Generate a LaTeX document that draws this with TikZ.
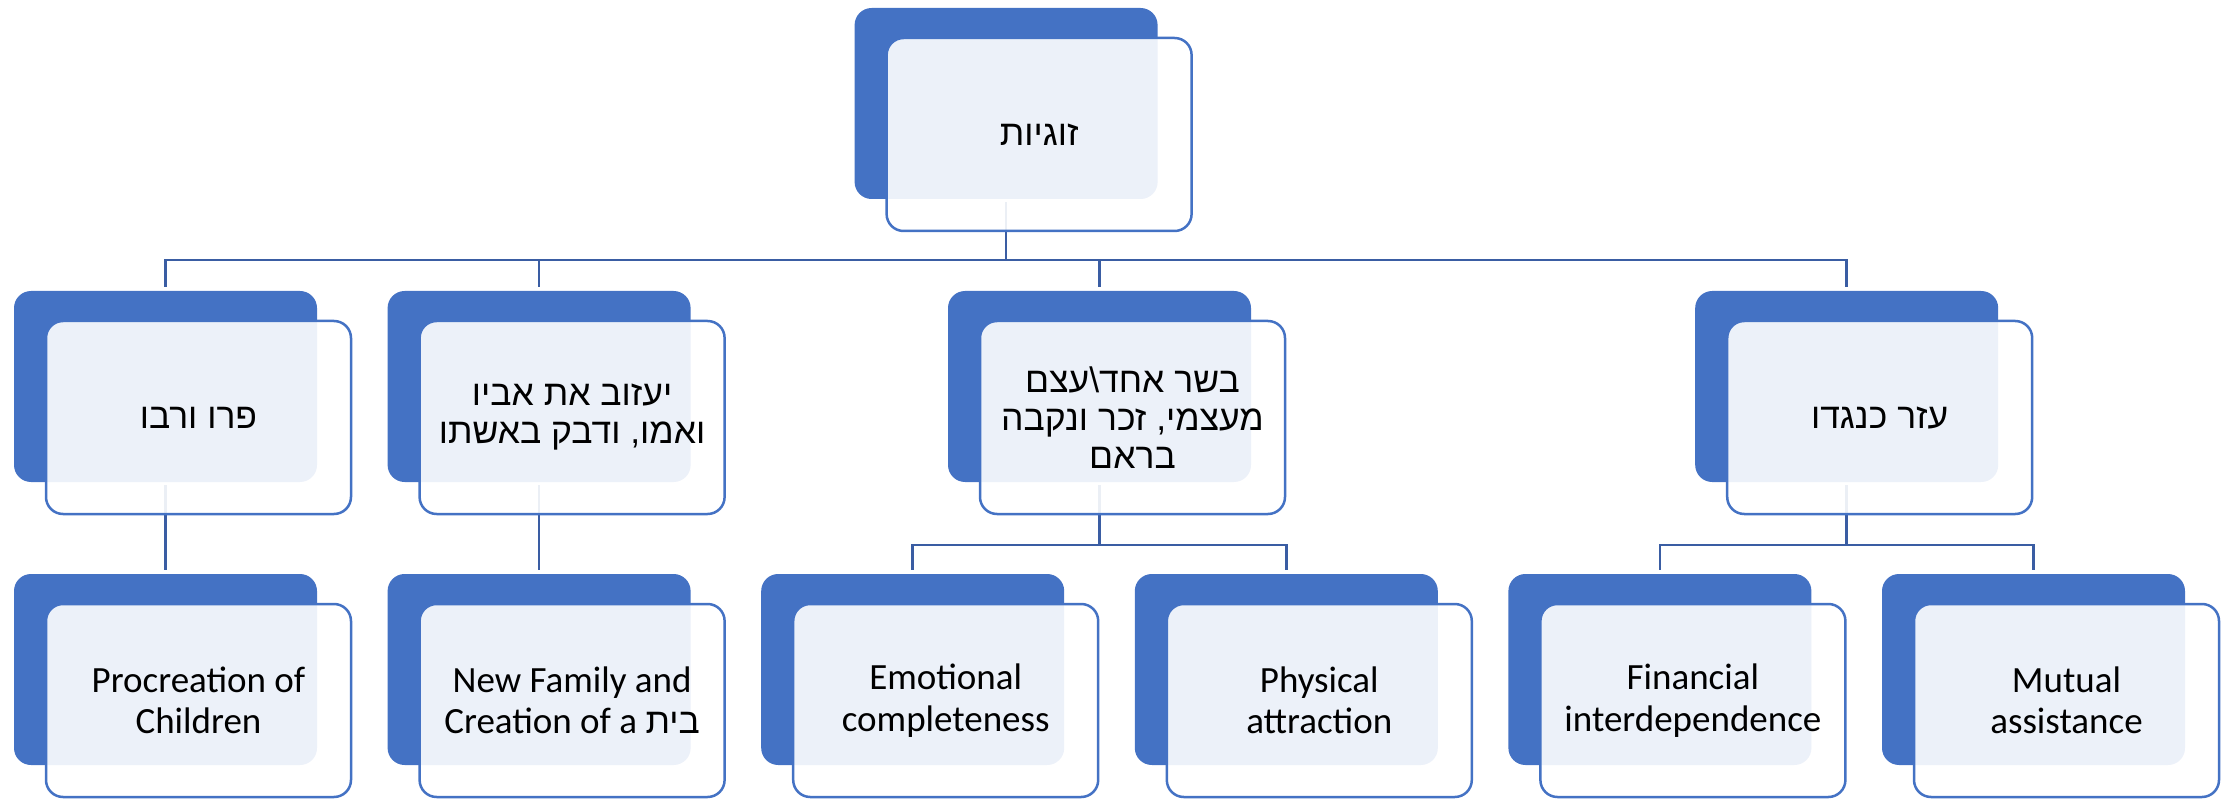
\documentclass[tikz,border=0pt]{standalone}
\usepackage{fontspec}
\setmainfont{Carlito}
\newfontfamily\heb[Script=Hebrew]{Liberation Sans}
\TeXXeTstate=1
\usetikzlibrary{calc}
\definecolor{accent}{HTML}{4472C4}
\definecolor{connc}{HTML}{3A5DA3}
\tikzset{
  bluebox/.style={fill=accent, draw=none, rounded corners=17pt, minimum width=303pt, minimum height=191pt, inner sep=0pt},
  whitebox/.style={fill=white, fill opacity=0.9, text opacity=1, draw=accent, draw opacity=1, line width=2.5pt, rounded corners=17pt, minimum width=305pt, minimum height=193pt, inner sep=0pt, align=center, text=black},
  entext/.style={font=\fontsize{37}{41.5}\selectfont},
  hetext/.style={font=\heb\fontsize{35.5}{38}\selectfont},
  conn/.style={draw=connc, line width=2.5pt}
}
\begin{document}
\begin{tikzpicture}[x=1pt,y=-1pt]
\useasboundingbox (0,0) rectangle (2236,799);
% back (blue) boxes
\node[bluebox] (b0) at (1006.1,103.5) {};
\node[bluebox] (b1) at (165.5,386.5) {};
\node[bluebox] (b2) at (539.1,386.5) {};
\node[bluebox] (b3) at (1099.5,386.5) {};
\node[bluebox] (b4) at (1846.7,386.5) {};
\node[bluebox] (c1) at (165.5,669.5) {};
\node[bluebox] (c2) at (539.1,669.5) {};
\node[bluebox] (c3) at (912.7,669.5) {};
\node[bluebox] (c4) at (1286.3,669.5) {};
\node[bluebox] (c5) at (1659.9,669.5) {};
\node[bluebox] (c6) at (2033.5,669.5) {};
% connectors
\coordinate (bus1) at (0,260);
\coordinate (bus2) at (0,545);
\draw[conn] ([yshift=-3pt]b0.south) -- (b0.south |- bus1);
\draw[conn] ([yshift=4pt]b1.north) -- (b1.north |- bus1) -- (b4.north |- bus1) -- ([yshift=4pt]b4.north);
\draw[conn] (b2.north |- bus1) -- ([yshift=4pt]b2.north);
\draw[conn] (b3.north |- bus1) -- ([yshift=4pt]b3.north);
\draw[conn] ([yshift=-3pt]b1.south) -- ([yshift=4pt]c1.north);
\draw[conn] ([yshift=-3pt]b2.south) -- ([yshift=4pt]c2.north);
\draw[conn] ([yshift=-3pt]b3.south) -- (b3.south |- bus2);
\draw[conn] ([yshift=4pt]c3.north) -- (c3.north |- bus2) -- (c4.north |- bus2) -- ([yshift=4pt]c4.north);
\draw[conn] ([yshift=-3pt]b4.south) -- (b4.south |- bus2);
\draw[conn] ([yshift=4pt]c5.north) -- (c5.north |- bus2) -- (c6.north |- bus2) -- ([yshift=4pt]c6.north);
% front boxes
\node[whitebox,hetext] (w0) at ($(b0)+(33,31)$) {\beginR זוגיות\endR};
\node[whitebox,hetext] (w1) at ($(b1)+(33,31)$) {\beginR פרו ורבו\endR};
\node[whitebox,hetext] (w2) at ($(b2)+(33,31)$) {\beginR יעזוב את אביו\endR\\\beginR ואמו, ודבק באשתו\endR};
\node[whitebox,hetext] (w3) at ($(b3)+(33,31)$) {\beginR בשר אחד\textbackslash{}עצם\endR\\\beginR מעצמי, זכר ונקבה\endR\\\beginR בראם\endR};
\node[whitebox,hetext] (w4) at ($(b4)+(33,31)$) {\beginR עזר כנגדו\endR};
\node[whitebox,entext] (x1) at ($(c1)+(33,31)$) {Procreation of\\Children};
\node[whitebox,entext] (x2) at ($(c2)+(33,31)$) {New Family and\\Creation of a {\heb\fontsize{35.5}{41.5}\selectfont\beginR בית\endR}};
\node[whitebox,entext] (x3) at ($(c3)+(33,31)$) {Emotional\\completeness};
\node[whitebox,entext] (x4) at ($(c4)+(33,31)$) {Physical\\attraction};
\node[whitebox,entext] (x5) at ($(c5)+(33,31)$) {Financial\\interdependence};
\node[whitebox,entext] (x6) at ($(c6)+(33,31)$) {Mutual\\assistance};
\end{tikzpicture}
\end{document}
